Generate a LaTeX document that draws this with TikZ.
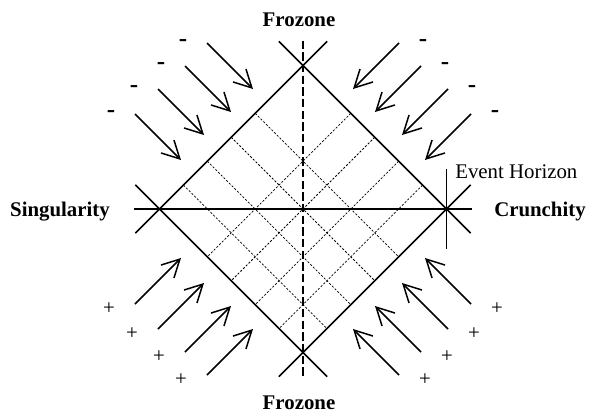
\documentclass[tikz,border=0pt]{standalone}
\usepackage{fontspec}
\setmainfont{Liberation Serif}
\usetikzlibrary{arrows.meta,calc}
\tikzset{
  wall/.style={line width=0.9pt},
  gridline/.style={line width=0.45pt,dash pattern=on 1.3pt off 1pt,black},
  flux/.style={line width=0.9pt,->},
  lbl/.style={font=\fontsize{12.5}{15}\selectfont,inner sep=0pt},
}

\begin{document}
\begin{tikzpicture}[x=0.6pt,y=0.6pt,>={Straight Barb[length=10.5pt,width=11pt]}]
\useasboundingbox (-303,-203) rectangle (286,209);
% corners
\coordinate (L) at (-143.5,0);
\coordinate (R) at (143.5,0);
\coordinate (T) at (0,143.5);
\coordinate (B) at (0,-143.5);
% inner grid
\foreach \k in {1,...,4} {
  \draw[gridline] ($(L)!\k/6!(T)$) -- ($(B)!\k/6!(R)$);
  \draw[gridline] ($(R)!\k/6!(T)$) -- ($(B)!\k/6!(L)$);
}
% edges, run on past the corners
\draw[wall,shorten <=-20.5pt,shorten >=-20.5pt] (L) -- (T);
\draw[wall,shorten <=-20.5pt,shorten >=-20.5pt] (T) -- (R);
\draw[wall,shorten <=-20.5pt,shorten >=-20.5pt] (R) -- (B);
\draw[wall,shorten <=-20.5pt,shorten >=-20.5pt] (B) -- (L);
\draw[wall,shorten <=-15pt,shorten >=-15pt] (L) -- (R);
\draw[wall,dash pattern=on 5pt off 2pt,shorten <=-15pt,shorten >=-15pt] (T) -- (B);
% horizon mark
\draw[wall] ($(R)+(0,40)$) -- ($(R)+(0,-40)$);
% infalling arrows and signs
\foreach \a/\b [count=\i] in {96/166,118/143,145/120,168/95} {
  \foreach \s/\side in {1/r,-1/l} {
    \draw[flux] (\s*\a,\b) -- ++(-\s*46,-46);
    \draw[flux] (\s*\a,-\b) -- ++(-\s*46,46);
    \node[lbl,font=\fontsize{15}{15}\bfseries] (m\side\i) at ({\s*(\a+24)},\b) {-};
    \node[lbl] (p\side\i) at ({\s*(\a+26)},-\b-5) {+};
  }
}
% labels
\node[lbl,anchor=base] (fzN) at (-4,183) {\textbf{Frozone}};
\node[lbl,anchor=base] (fzS) at (-4,-200) {\textbf{Frozone}};
\node[lbl,anchor=base] (sing) at (-243,-7.7) {\textbf{Singularity}};
\node[lbl,anchor=base] (crun) at (237,-7) {\textbf{Crunchity}};
\node[lbl,anchor=base west] (evh) at (152,30.7) {Event Horizon};
\end{tikzpicture}
\end{document}
